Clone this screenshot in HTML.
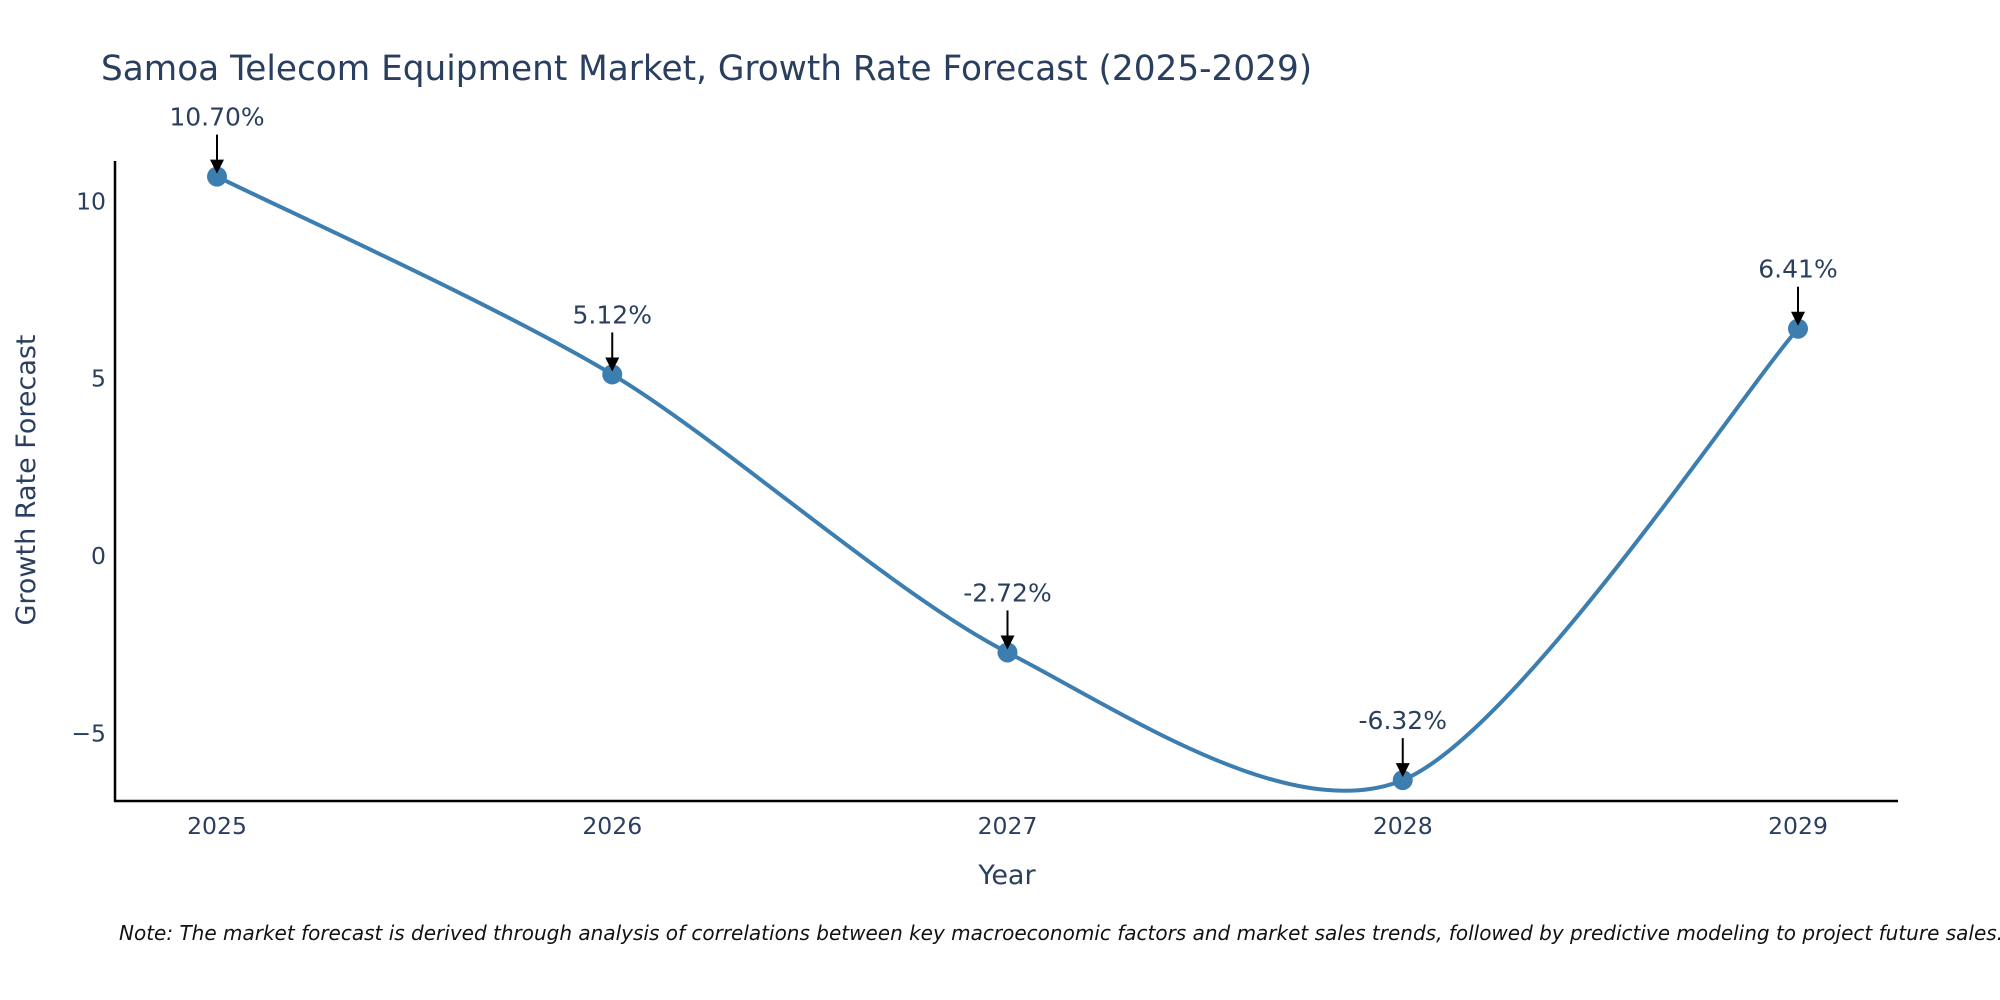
<!DOCTYPE html>
<html><head><meta charset="utf-8"><style>
html,body{margin:0;padding:0;background:#fff;width:2000px;height:1000px;overflow:hidden}
svg{display:block;font-family:"DejaVu Sans","Liberation Sans",sans-serif}
</style></head><body>
<svg id="chart" width="2000" height="1000" viewBox="0 0 2000 1000">
<text x="101" y="80" font-size="34.3" fill="#2a3f5f">Samoa Telecom Equipment Market, Growth Rate Forecast (2025-2029)</text>
<g id="yticks"></g>
<g id="xticks"></g>
<line x1="115" y1="161" x2="115" y2="802" stroke="#000" stroke-width="2.5"/>
<line x1="114" y1="801" x2="1898" y2="801" stroke="#000" stroke-width="2.5"/>
<path id="curve" fill="none" stroke="#3d7eb0" stroke-width="4"/>
<g id="marks"></g>
<g id="annos"></g>
<text x="1007" y="884" font-size="27" fill="#2a3f5f" text-anchor="middle">Year</text>
<text transform="translate(35,480) rotate(-90)" font-size="27" fill="#2a3f5f" text-anchor="middle">Growth Rate Forecast</text>
<text x="119" y="940" font-size="20" font-style="italic" fill="#111">Note: The market forecast is derived through analysis of correlations between key macroeconomic factors and market sales trends, followed by predictive modeling to project future sales.</text>
</svg>
<script>
const years = [2025, 2026, 2027, 2028, 2029];
const growth = [10.70, 5.12, -2.72, -6.32, 6.41];
const yTickValues = [-5, 0, 5, 10];
const yTickLabels = ["\u22125", "0", "5", "10"];

const NS = "http://www.w3.org/2000/svg";
function xScale(v){ return 217 + (v - 2025) * 395.25; }
function yScale(v){ return 556 - v * 35.46; }
function mk(tag, attrs, parent){
  const e = document.createElementNS(NS, tag);
  for (const k in attrs) e.setAttribute(k, attrs[k]);
  parent.appendChild(e);
  return e;
}
const yt = document.getElementById('yticks');
yTickValues.forEach((v, i) => {
  const t = mk('text', {x: 106, y: yScale(v) + 8, 'font-size': 23.5, fill: '#2a3f5f', 'text-anchor': 'end'}, yt);
  t.textContent = yTickLabels[i];
  
  
});
const xt = document.getElementById('xticks');
years.forEach(y => {
  const t = mk('text', {x: xScale(y), y: 834, 'font-size': 23.5, fill: '#2a3f5f', 'text-anchor': 'middle'}, xt);
  t.textContent = String(y);
  
  
});
const pts = years.map((y, i) => [xScale(y), yScale(growth[i])]);
let d = 'M' + pts[0][0] + ',' + pts[0][1];
for (let i = 0; i < pts.length - 1; i++) {
  const p0 = pts[Math.max(0, i - 1)], p1 = pts[i], p2 = pts[i + 1], p3 = pts[Math.min(pts.length - 1, i + 2)];
  const k = 7;
  const c1 = [p1[0] + (p2[0] - p0[0]) / k, p1[1] + (p2[1] - p0[1]) / k];
  const c2 = [p2[0] - (p3[0] - p1[0]) / k, p2[1] - (p3[1] - p1[1]) / k];
  d += ' C' + c1.join(',') + ' ' + c2.join(',') + ' ' + p2.join(',');
}
document.getElementById('curve').setAttribute('d', d);
const mg = document.getElementById('marks');
const ag = document.getElementById('annos');
pts.forEach((p, i) => {
  const c = mk('circle', {cx: p[0], cy: p[1], r: 10, fill: '#3d7eb0'}, mg);
  
  
  mk('line', {x1: p[0], y1: p[1] - 42, x2: p[0], y2: p[1] - 16, stroke: '#000', 'stroke-width': 2}, ag);
  const a = mk('path', {d: `M${p[0]-7},${p[1]-17} L${p[0]+7},${p[1]-17} L${p[0]},${p[1]-3} Z`, fill: '#000'}, ag);
  
  
  const t = mk('text', {x: p[0], y: p[1] - 51, 'font-size': 25, fill: '#2a3f5f', 'text-anchor': 'middle'}, ag);
  t.textContent = growth[i].toFixed(2) + '%';
  
  
});
</script>
</body></html>
